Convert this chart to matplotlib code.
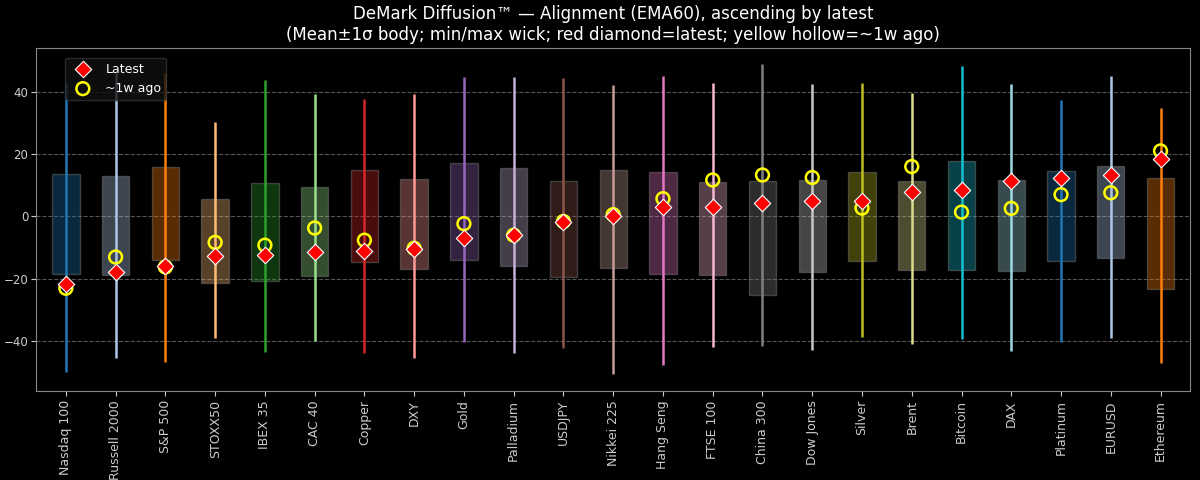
import matplotlib
matplotlib.use("Agg")
import matplotlib.pyplot as plt
import numpy as np

names = ["Nasdaq 100","Russell 2000","S&P 500","STOXX50","IBEX 35","CAC 40","Copper","DXY","Gold","Palladium","USDJPY",
         "Nikkei 225","Hang Seng","FTSE 100","China 300","Dow Jones","Silver","Brent","Bitcoin","DAX","Platinum","EURUSD","Ethereum"]
body_hi = [13.7,13.0,15.7,5.5,10.7,9.6,14.9,12.1,17.0,15.6,11.4,14.8,14.4,11.0,11.3,11.8,14.3,11.3,17.9,11.6,14.6,16.1,12.4]
body_lo = [-18.3,-18.8,-14.0,-21.2,-20.7,-19.0,-14.5,-16.9,-13.8,-15.8,-19.3,-16.6,-18.5,-18.7,-25.3,-17.7,-14.3,-17.0,-17.0,-17.6,-14.2,-13.4,-23.1]
wick_hi = [42.8,46.0,46.0,30.3,43.8,39.2,37.6,39.2,44.7,44.6,44.3,42.0,45.0,42.9,48.9,42.4,42.8,39.6,48.3,42.5,37.2,45.1,34.7]
wick_lo = [-49.8,-45.5,-46.7,-39.0,-43.3,-39.8,-43.9,-45.3,-40.3,-43.9,-42.0,-50.6,-47.6,-41.8,-41.6,-42.7,-38.7,-41.0,-39.4,-43.1,-40.2,-38.8,-46.9]
latest = [-21.5,-17.7,-16.0,-12.7,-12.3,-11.3,-11.2,-10.3,-6.9,-6.0,-1.8,0.0,3.0,3.0,4.4,4.9,5.0,7.8,8.4,11.3,12.2,13.2,18.5]
week_ago = [-23.0,-13.0,-16.2,-8.3,-9.2,-3.7,-7.6,-10.2,-2.3,-6.0,-1.6,0.6,5.7,11.7,13.3,12.5,2.7,16.0,1.4,2.6,7.0,7.6,21.0]

cmap = plt.get_cmap("tab20")
colors = [cmap(i % 20) for i in range(len(names))]

fig = plt.figure(figsize=(12, 4.8), dpi=100, facecolor="black")
ax = fig.add_axes([0.03, 0.185, 0.962, 0.715])
ax.set_facecolor("black")
x = np.arange(len(names))
for i in x:
    ax.vlines(i, wick_lo[i], wick_hi[i], color=colors[i], lw=1.8, zorder=2)
    ax.bar(i, body_hi[i]-body_lo[i], bottom=body_lo[i], width=0.55, color=colors[i], alpha=0.35,
           edgecolor=(0.6,0.6,0.6,0.6), lw=1, zorder=1)
ax.scatter(x, latest, marker="D", s=70, color="red", edgecolor="white", lw=0.8, zorder=4, label="Latest")
ax.scatter(x, week_ago, marker="o", s=85, facecolor="none", edgecolor="yellow", lw=1.8, zorder=3, label="~1w ago")
ax.set_xlim(-0.6, len(names)-0.4)
ax.set_ylim(-56, 54)
ax.set_yticks([-40,-20,0,20,40])
ax.set_xticks(x)
ax.set_xticklabels(names, rotation=90, color="#dddddd")
ax.tick_params(colors="#cccccc", labelsize=8.5, pad=2)
ax.tick_params(axis="x", labelsize=9, pad=3)
ax.grid(axis="y", ls="--", color="#555555", lw=0.8)
ax.set_axisbelow(True)
for s in ax.spines.values():
    s.set_color("#888888")
ax.set_title("DeMark Diffusion\u2122 \u2014 Alignment (EMA60), ascending by latest\n(Mean\u00b11\u03c3 body; min/max wick; red diamond=latest; yellow hollow=~1w ago)",
             color="white", fontsize=12)
leg = ax.legend(loc="upper left", bbox_to_anchor=(0.02, 0.99), facecolor="#111111", edgecolor="#333333", labelcolor="white", fontsize=9)
fig.savefig("out.png", facecolor="black")
